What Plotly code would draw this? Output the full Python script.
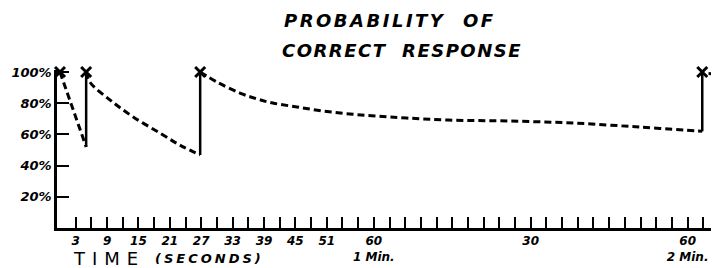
import plotly.graph_objects as go

# ---- data ----
# dashed "forgetting" curves, seconds vs probability (%)
seg1_t = [0, 5]
seg1_p = [100, 52]
seg2_t = [5, 5.7, 9.6, 14.0, 19.1, 22.9, 26.8]
seg2_p = [100, 93.6, 82, 71.2, 60.9, 53.2, 46.8]
seg3_t = [26.8, 30.0, 34.4, 37.7, 40.7, 45.3, 50.3, 55.4, 60.6, 66.3, 74.2, 85.5, 98.1, 110.9, 121.8, 122.8]
seg3_p = [100, 93.6, 86.5, 82.7, 80.1, 77.6, 75.0, 73.1, 71.8, 70.5, 69.2, 68.6, 67.3, 64.7, 62.2, 62.0]
seg4_t = [124.0, 126.5]
seg4_p = [99, 98.6]

# presentations (X marks) and recall jumps
present_t = [0, 5, 26.8, 122.8]
present_p = [100, 100, 100, 100]
jump_t = [5, 26.8, 122.8]
jump_low = [52, 46.8, 62.0]

# axes
x_ticks = list(range(3, 127, 3))
x_label_vals = [3, 9, 15, 21, 27, 33, 39, 45, 51, 60, 90, 120]
x_label_text = ["3", "9", "15", "21", "27", "33", "39", "45", "51",
                "60<br>1 Min.", "30", "60<br>2 Min."]
y_vals = [20, 40, 60, 80, 100]
y_text = ["20%", "40%", "60%", "80%", "100%"]

title_1 = "PROBABILITY  OF"
title_2 = "CORRECT  RESPONSE"
x_title_a = "TIME"
x_title_b = "(SECONDS)"

# ---- layout geometry (page body has an 8px margin) ----
OFF = 8
W, H = 719 - OFF, 268 - OFF
L, R, T, B = 57 - OFF, 0, 70 - OFF, 40
PW, PH = W - L - R, H - T - B
FONT = "DejaVu Sans"


def px(x):
    return (x - OFF - L) / PW


def py(y):
    return (H - B - (y - OFF)) / PH


def join(*segs):
    xs, ys = [], []
    for t, p in segs:
        xs += list(t) + [None]
        ys += list(p) + [None]
    return xs, ys


dx, dy = join((seg1_t, seg1_p), (seg2_t, seg2_p), (seg3_t, seg3_p))
vx, vy = [], []
for t, lo in zip(jump_t, jump_low):
    vx += [t, t, None]
    vy += [lo, 100, None]

all_ticks = sorted(set(x_ticks) | set(x_label_vals))
ticktext = [x_label_text[x_label_vals.index(v)] if v in x_label_vals else "" for v in all_ticks]

fig = go.Figure()
fig.add_trace(go.Scatter(x=dx, y=dy, mode="lines", line=dict(color="black", width=3, dash="7px,4px", shape="spline"),
                         hoverinfo="skip", showlegend=False))
fig.add_trace(go.Scatter(x=seg4_t, y=seg4_p, mode="lines", line=dict(color="black", width=3, dash="4px,3px"),
                         hoverinfo="skip", showlegend=False))
fig.add_trace(go.Scatter(x=vx, y=vy, mode="lines", line=dict(color="black", width=2.5),
                         hoverinfo="skip", showlegend=False))
fig.add_trace(go.Scatter(x=present_t, y=present_p, mode="markers",
                         marker=dict(symbol="x-thin", size=10, line=dict(color="black", width=3)),
                         cliponaxis=False, showlegend=False))

fig.update_xaxes(range=[-3 / 5.23, 126.0], showline=True, linecolor="black", linewidth=2.5,
                 showgrid=False, zeroline=False, ticks="inside", ticklen=11, tickwidth=2, tickcolor="black",
                 tickmode="array", tickvals=all_ticks, ticktext=ticktext,
                 tickfont=dict(family=FONT, size=12, color="black", weight="bold", style="italic"))
fig.update_yaxes(range=[0, 101.3], showline=True, linecolor="black", linewidth=2.5,
                 showgrid=False, zeroline=False, ticks="inside", ticklen=12, tickwidth=2, tickcolor="black",
                 tickmode="array", tickvals=y_vals, ticktext=y_text,
                 tickfont=dict(family=FONT, size=13, color="black", weight="bold", style="italic"))

ann = [
    dict(x=px(282), y=py(21), text='<span style="letter-spacing:2.5px">' + title_1 + '</span>',
         font=dict(family=FONT, size=18, weight="bold", style="italic")),
    dict(x=px(280), y=py(50), text='<span style="letter-spacing:1.5px">' + title_2 + '</span>',
         font=dict(family=FONT, size=18, weight="bold", style="italic")),
    dict(x=px(71), y=py(258), text='<span style="letter-spacing:7px">' + x_title_a + '</span>',
         font=dict(family=FONT, size=18)),
    dict(x=px(153), y=py(258), text='<span style="letter-spacing:3px">' + x_title_b + '</span>',
         font=dict(family=FONT, size=13, weight="bold", style="italic")),
]
for a in ann:
    a.update(xref="paper", yref="paper", xanchor="left", yanchor="middle", showarrow=False)
    a["font"]["color"] = "black"

fig.update_layout(width=W, height=H, margin=dict(l=L, r=R, t=T, b=B),
                  paper_bgcolor="white", plot_bgcolor="white", annotations=ann)

fig.write_html("out.html")
